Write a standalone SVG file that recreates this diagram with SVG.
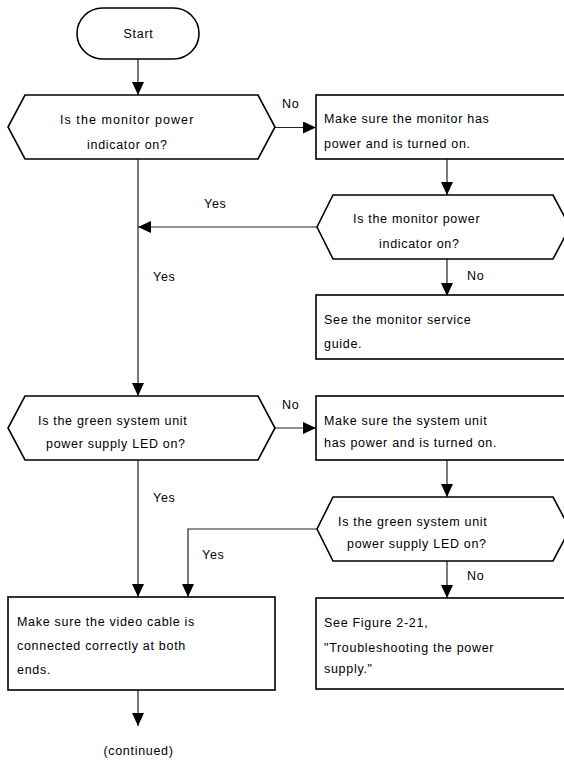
<svg xmlns="http://www.w3.org/2000/svg" width="564" height="761" viewBox="0 0 564 761">
<defs>
<style>
.shape{fill:#fff;stroke:#000;stroke-width:1.6}
.conn{fill:none;stroke:#222;stroke-width:1.2}
text{font-family:"Liberation Sans",Arial,sans-serif;font-size:12.5px;fill:#000;letter-spacing:0.7px}
.m{text-anchor:middle}
</style>
<marker id="ah" viewBox="0 0 13 12" refX="13" refY="6" markerWidth="13" markerHeight="12" markerUnits="userSpaceOnUse" orient="auto">
<path d="M0,0 L13,6 L0,12 z" fill="#000"/>
</marker>
</defs>
<rect width="564" height="761" fill="#fff"/>
<g id="connectors">
<path class="conn" d="M138,59 V95" marker-end="url(#ah)"/>
<path class="conn" d="M275,127.5 H316" marker-end="url(#ah)"/>
<path class="conn" d="M447,159 V195" marker-end="url(#ah)"/>
<path class="conn" d="M317,227 H138" marker-end="url(#ah)"/>
<path class="conn" d="M447,259 V296" marker-end="url(#ah)"/>
<path class="conn" d="M138,159 V396" marker-end="url(#ah)"/>
<path class="conn" d="M275,428 H316" marker-end="url(#ah)"/>
<path class="conn" d="M447,460 V497" marker-end="url(#ah)"/>
<path class="conn" d="M317,529 H188 V597" marker-end="url(#ah)"/>
<path class="conn" d="M447,561 V598" marker-end="url(#ah)"/>
<path class="conn" d="M138,460 V597" marker-end="url(#ah)"/>
<path class="conn" d="M138,690 V726" marker-end="url(#ah)"/>
<text x="282" y="108">No</text>
<text x="204" y="208">Yes</text>
<text x="467" y="280">No</text>
<text x="153" y="281">Yes</text>
<text x="282" y="409">No</text>
<text x="153" y="502">Yes</text>
<text x="202" y="559">Yes</text>
<text x="467" y="580">No</text>
<text class="m" x="138.5" y="755">(continued)</text>
</g>
<g id="start">
<rect class="shape" x="77" y="8" width="122" height="51" rx="25.5" ry="25.5"/>
<text class="m" x="138.5" y="38">Start</text>
</g>
<g id="d1">
<polygon class="shape" points="25,95 258,95 275,127 258,159 25,159 8,127"/>
<text x="60" y="124" textLength="134" lengthAdjust="spacing">Is the monitor power</text>
<text x="87" y="149">indicator on?</text>
</g>
<g id="b1">
<rect class="shape" x="316" y="95" width="267" height="64"/>
<text x="324" y="123">Make sure the monitor has</text>
<text x="324" y="148">power and is turned on.</text>
</g>
<g id="d2">
<polygon class="shape" points="333,195 553,195 570,227 553,259 333,259 317,227"/>
<text x="353" y="223">Is the monitor power</text>
<text x="379" y="248">indicator on?</text>
</g>
<g id="b2">
<rect class="shape" x="316" y="295" width="267" height="64"/>
<text x="324" y="324">See the monitor service</text>
<text x="324" y="348">guide.</text>
</g>
<g id="d3">
<polygon class="shape" points="25,396 258,396 275,428 258,460 25,460 8,428"/>
<text x="38" y="425">Is the green system unit</text>
<text x="46" y="448">power supply LED on?</text>
</g>
<g id="b3">
<rect class="shape" x="316" y="396" width="267" height="64"/>
<text x="324" y="425">Make sure the system unit</text>
<text x="324" y="447">has power and is turned on.</text>
</g>
<g id="d4">
<polygon class="shape" points="333,497 553,497 570,529 553,561 333,561 317,529"/>
<text x="338" y="526">Is the green system unit</text>
<text x="347" y="548">power supply LED on?</text>
</g>
<g id="b4">
<rect class="shape" x="8" y="597" width="267" height="93"/>
<text x="17" y="626">Make sure the video cable is</text>
<text x="17" y="650">connected correctly at both</text>
<text x="17" y="674">ends.</text>
</g>
<g id="b5">
<rect class="shape" x="316" y="598" width="267" height="91"/>
<text x="324" y="627">See Figure 2-21,</text>
<text x="324" y="652">"Troubleshooting the power</text>
<text x="324" y="673">supply."</text>
</g>
</svg>
